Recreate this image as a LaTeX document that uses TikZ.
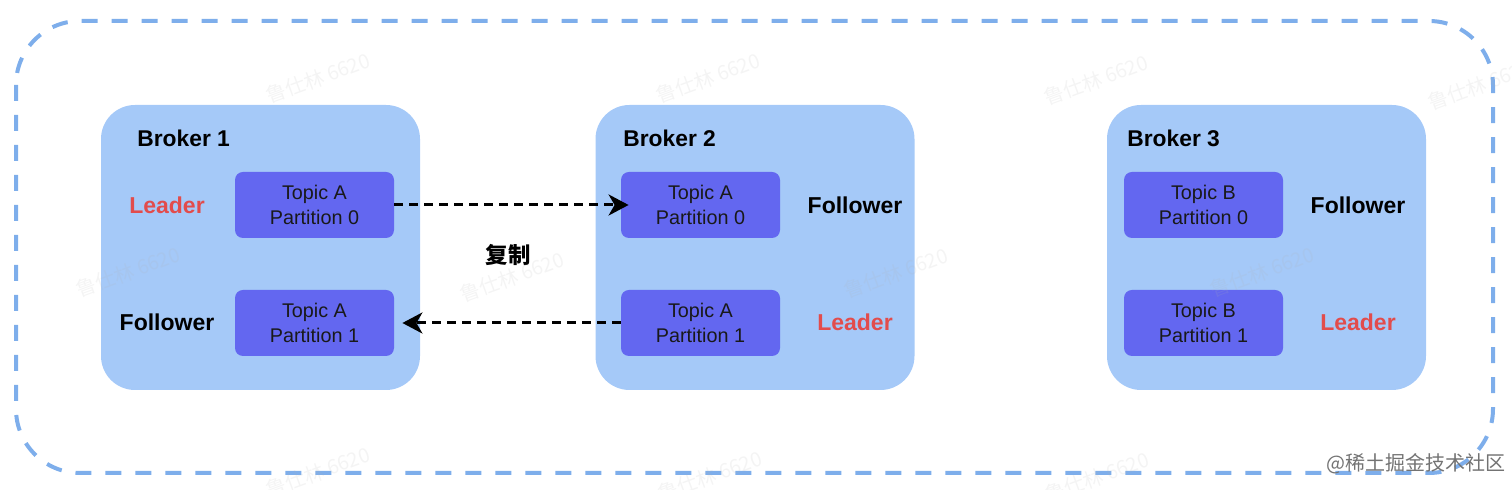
\documentclass[tikz,border=0pt]{standalone}
\usepackage{fontspec}
\setmainfont{Liberation Sans}
\newfontfamily\cjk{Noto Sans CJK SC}
\usetikzlibrary{arrows.meta}
\definecolor{outerblue}{RGB}{126,174,235}
\definecolor{brokerblue}{RGB}{165,201,248}
\definecolor{partblue}{RGB}{99,103,240}
\definecolor{leadred}{RGB}{226,76,76}
\begin{document}
\begin{tikzpicture}
      [x=.5pt,y=-.5pt
      ,outer/.style={draw=outerblue,line width=2pt,dash pattern=on 8pt off 7pt,rounded corners=32pt}
      ,brk/.style={fill=brokerblue,rounded corners=17pt,minimum width=159.5pt,minimum height=142.5pt,inner sep=0pt}
      ,part/.style={fill=partblue,rounded corners=4pt,minimum width=79.5pt,minimum height=33pt,inner sep=0pt,align=center,text=black!90,font=\fontsize{9.9}{12.5}\selectfont}
      ,brkname/.style={anchor=west,inner sep=0pt,font=\bfseries\fontsize{11.4}{13}\selectfont}
      ,rolelbl/.style={font=\bfseries\fontsize{11.5}{13}\selectfont}
      ,ldr/.style={rolelbl,text=leadred}
      ,repl/.style={line width=1.5pt,dash pattern=on 4.5pt off 3pt,-{Stealth[length=10pt,width=10.5pt,inset=3pt]}}
      ,wm/.style={rotate=20,text=gray!60,opacity=.14,font=\cjk\fontsize{10}{12}\selectfont}
      ]
        \useasboundingbox (0,0) rectangle (1512,490);
        \draw[outer] (16,21) rectangle (1493,473);
        % brokers
        \node[brk] (b1) at (260.5,247.5) {};
        \node[brk] (b2) at (755,247.5) {};
        \node[brk] (b3) at (1266.5,247.5) {};
        \node[brkname] (n1) at (137,138) {Broker 1};
        \node[brkname] (n2) at (623,138) {Broker 2};
        \node[brkname] (n3) at (1127,138) {Broker 3};
        % partitions
        \node[part] (a0) at (314.5,205) {Topic A\\Partition 0};
        \node[part] (a1) at (314.5,323) {Topic A\\Partition 1};
        \node[part] (c0) at (700.5,205) {Topic A\\Partition 0};
        \node[part] (c1) at (700.5,323) {Topic A\\Partition 1};
        \node[part] (d0) at (1203.5,205) {Topic B\\Partition 0};
        \node[part] (d1) at (1203.5,323) {Topic B\\Partition 1};
        % roles
        \node[ldr] (r1) at (167,205) {Leader};
        \node[rolelbl] (r2) at (167,322) {Follower};
        \node[rolelbl] (r3) at (855,205) {Follower};
        \node[ldr] (r4) at (855,322) {Leader};
        \node[rolelbl] (r5) at (1358,205) {Follower};
        \node[ldr] (r6) at (1358,322) {Leader};
        % replication
        \draw[repl,shorten >=-4pt] (a0.east) -- (c0.west);
        \draw[repl,shorten >=4pt] (c1.west) -- (a1.east);
        \node[font=\cjk\bfseries\fontsize{11.2}{13}\selectfont] (cp) at (508,255) {复制};
        % watermarks
        \foreach \x/\y in {318/78,708/78,1096/80,1480/85,128/272,512/277,896/273,1262/272,318/472,710/476,1097/477}{
          \node[wm] at (\x,\y) {鲁仕林 6620};
        }
        \node[text=black!55,font=\cjk\fontsize{10}{12}\selectfont] (src) at (1416,464) {@稀土掘金技术社区};
      \end{tikzpicture}
\end{document}
